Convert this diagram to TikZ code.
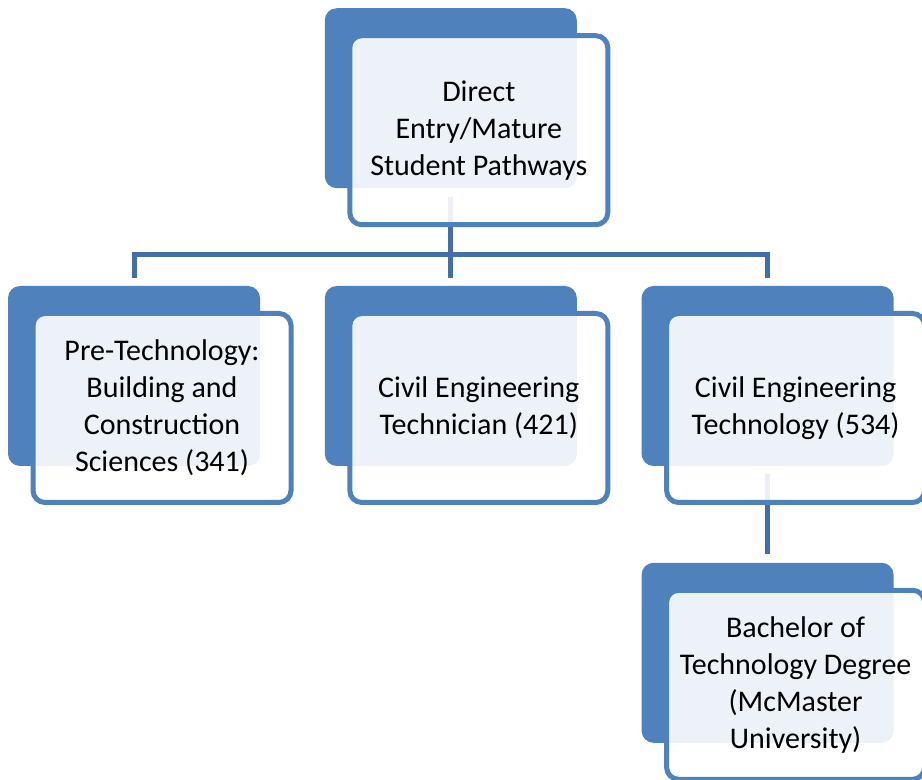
\documentclass[tikz,border=0pt]{standalone}
\usepackage{fontspec}
\setmainfont{Carlito}
\usetikzlibrary{positioning}
\definecolor{pathblue}{HTML}{4F81BD}
\definecolor{linkblue}{HTML}{426EAA}

\begin{document}
\begin{tikzpicture}[
  x=0.5pt, y=-0.5pt,
  font=\fontsize{15}{18.5}\selectfont,
  backbox/.style={fill=pathblue, rounded corners=6pt, inner sep=0pt,
    minimum width=126pt, minimum height=90pt},
  frontbox/.style={draw=pathblue, line width=2.5pt, fill=white, fill opacity=0.9,
    text opacity=1, rounded corners=6pt, align=center, inner sep=2pt,
    minimum width=129pt, minimum height=94.5pt},
  link/.style={draw=linkblue, line width=2.5pt, shorten <=4pt, shorten >=4pt}
]
\useasboundingbox (0,0) rectangle (922,780);
\node[backbox] (leftb) at (134,376) {};
\node[backbox, right=32pt of leftb] (midb) {};
\node[backbox, right=32pt of midb] (rightb) {};
\node[backbox, above=48.5pt of midb] (topb) {};
\node[backbox, below=48pt of rightb] (botb) {};
\coordinate (bus) at (0,255);
\draw[link] (topb.south) -- (midb.north);
\draw[link] (leftb.north) -- (leftb.north |- bus) -- (rightb.north |- bus) -- (rightb.north);
\draw[link] (rightb.south) -- (botb.north);
\node[frontbox] (top) at ([shift={(28,32)}]topb) {Direct\\Entry/Mature\\Student Pathways};
\node[frontbox] (pretech) at ([shift={(28,32)}]leftb) {Pre-Technology:\\Building and\\Construction\\Sciences (341)};
\node[frontbox] (technician) at ([shift={(28,32)}]midb) {Civil Engineering\\Technician (421)};
\node[frontbox] (technology) at ([shift={(28,32)}]rightb) {Civil Engineering\\Technology (534)};
\node[frontbox] (bachelor) at ([shift={(28,32)}]botb) {Bachelor of\\Technology Degree\\(McMaster\\University)};
\end{tikzpicture}
\end{document}
